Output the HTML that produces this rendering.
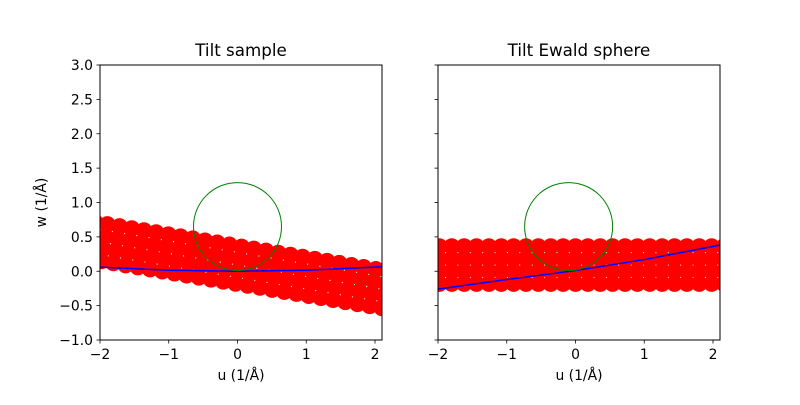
<!DOCTYPE html>
<html><head><meta charset="utf-8">
<style>
body{margin:0;background:#fff;}
svg text{font-family:"DejaVu Sans","Liberation Sans",sans-serif;fill:#000;}
</style></head>
<body>
<svg id="fig" width="800" height="400" viewBox="0 0 800 400" xmlns="http://www.w3.org/2000/svg">
<defs>
<clipPath id="c0"><rect x="100" y="65" width="282" height="275"/></clipPath>
<clipPath id="c1"><rect x="438" y="65" width="282" height="275"/></clipPath>
</defs>
</svg>
<script>
// data
const xTicks=[-2,-1,0,1,2];
const yTicks=[-1.0,-0.5,0.0,0.5,1.0,1.5,2.0,2.5,3.0];
const latticeCols=[-12,-11,-10,-9,-8,-7,-6,-5,-4,-3,-2,-1,0,1,2,3,4,5,6,7,8,9,10,11,12,13];
const latticeRows=[-1,0,1,2];
const latticeSpacing=0.18;
const spotRadius=0.12;
const tiltDeg=[-9.5,0];
const sphereCenterU=[0,-0.1];
const sphereCenterW=[0.65,0.65];
const sphereR=[0.64,0.64];
const blueU=[-2,-1,0,1,2.1];
const blueW0=[0.06,0.015,0,0.015,0.065];
const blueW1=[-0.26,-0.12,0.01,0.17,0.38];
const titles=["Tilt sample","Tilt Ewald sphere"];

const NS="http://www.w3.org/2000/svg";
const svg=document.getElementById('fig');
function mk(t,a,p){const e=document.createElementNS(NS,t);for(const k in a)e.setAttribute(k,a[k]);(p||svg).appendChild(e);return e;}
const S=68.75;
const lefts=[100,438];
function sx(i,u){return lefts[i]+(u+2)*S;}
function sy(w){return 65+(3-w)*S;}

for(let i=0;i<2;i++){
  const g=mk('g',{'clip-path':'url(#c'+i+')'});
  
  
  const a=tiltDeg[i]*Math.PI/180;
  for(const c of latticeCols)for(const r of latticeRows){
    const u0=c*latticeSpacing,w0=r*latticeSpacing;
    const u=u0*Math.cos(a)-w0*Math.sin(a), w=u0*Math.sin(a)+w0*Math.cos(a);
    const e=mk('circle',{cx:sx(i,u),cy:sy(w),r:spotRadius*S,fill:'#ff0000'},g);
    
    
  }
  const bw=i==0?blueW0:blueW1;
  const pts=blueU.map((u,k)=>sx(i,u)+','+sy(bw[k])).join(' ');
  const pl=mk('polyline',{points:pts,fill:'none',stroke:'#0000ff','stroke-width':1.5},g);
  
  
  const ci=mk('circle',{cx:sx(i,sphereCenterU[i]),cy:sy(sphereCenterW[i]),r:sphereR[i]*S,fill:'none',stroke:'#008000','stroke-width':1},g);
  
  
  const fr=mk('rect',{x:lefts[i],y:65,width:282,height:275,fill:'none',stroke:'#000','stroke-width':1});
  
  
  for(const t of xTicks){
    const x=sx(i,t);
    const l=mk('line',{x1:x,x2:x,y1:340,y2:343.5,stroke:'#000','stroke-width':0.8});
    
    
    const tx=mk('text',{x:x,y:359,'font-size':13.9,'text-anchor':'middle'});
    tx.textContent=(t<0?'\u2212'+(-t):t);
    
    
  }
  for(const t of yTicks){
    const y=sy(t);
    const l=mk('line',{x1:lefts[i]-3.5,x2:lefts[i],y1:y,y2:y,stroke:'#000','stroke-width':0.8});
    
    
    if(i==0){
      const tx=mk('text',{x:93,y:y+5,'font-size':13.9,'text-anchor':'end'});
      tx.textContent=(t<0?'\u2212'+(-t).toFixed(1):t.toFixed(1));
      
      
    }
  }
  const xl=mk('text',{x:lefts[i]+141,y:380,'font-size':13.9,'text-anchor':'middle'});
  xl.textContent='u (1/Å)';
  
  
  const tt=mk('text',{x:lefts[i]+141,y:56,'font-size':16.7,'text-anchor':'middle'});
  tt.textContent=titles[i];
  
  
}
const yl=mk('text',{x:46,y:202.5,'font-size':13.9,'text-anchor':'middle',transform:'rotate(-90 46 202.5)'});
yl.textContent='w (1/Å)';


</script>
</body></html>
